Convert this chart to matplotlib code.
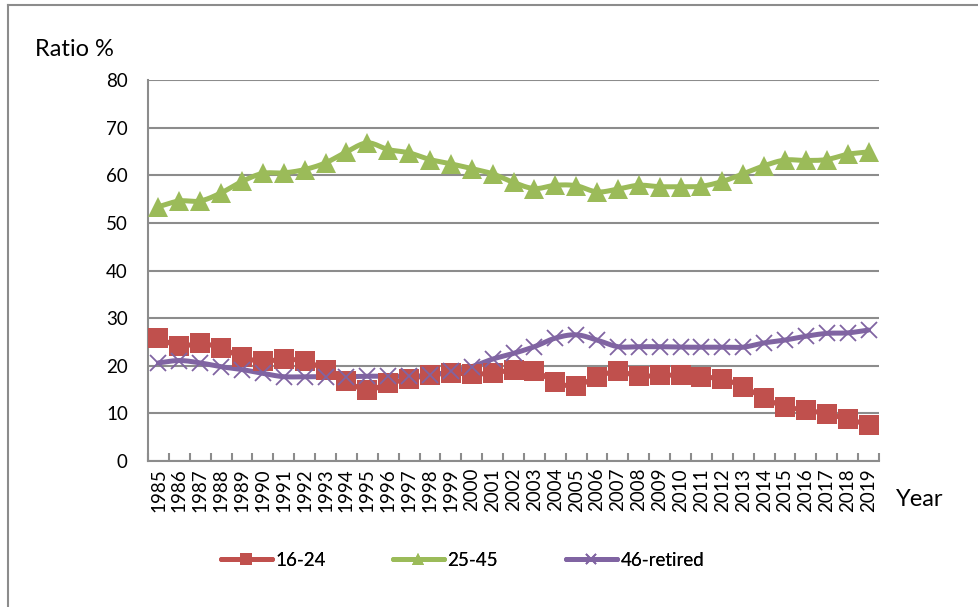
import numpy as np
import matplotlib
matplotlib.use("Agg")
import matplotlib.pyplot as plt
from matplotlib.lines import Line2D

plt.rcParams['font.family'] = ['Lato', 'DejaVu Sans']

years = list(range(1985, 2020))
age_16_24 = [25.8, 24.1, 24.7, 23.7, 21.8, 20.9, 21.4, 20.9, 19.2, 16.7,
             14.9, 16.3, 17.2, 18.1, 18.4, 18.3, 18.4, 19.2, 19.0, 16.5,
             15.8, 17.7, 18.8, 17.8, 18.0, 18.0, 17.7, 17.2, 15.6, 13.2,
             11.4, 10.7, 9.9, 8.8, 7.6]
age_25_45 = [53.4, 54.6, 54.6, 56.3, 58.7, 60.4, 60.5, 61.2, 62.6, 64.9,
             66.8, 65.4, 64.7, 63.3, 62.4, 61.4, 60.3, 58.5, 57.2, 57.9,
             57.8, 56.5, 57.1, 57.9, 57.6, 57.6, 57.7, 58.7, 60.3, 62.0,
             63.2, 63.1, 63.3, 64.4, 64.9]
age_46_retired = [20.6, 21.1, 20.6, 19.8, 19.2, 18.4, 17.7, 17.7, 17.7, 17.7,
                  17.8, 17.8, 17.8, 18.0, 18.8, 19.8, 21.4, 22.6, 24.0, 25.8,
                  26.5, 25.4, 24.0, 24.0, 24.0, 23.9, 23.9, 23.9, 23.9, 24.8,
                  25.4, 26.2, 26.8, 26.9, 27.5]
series_names = ["16-24", "25-45", "46-retired"]
y_ticks = [0, 10, 20, 30, 40, 50, 60, 70, 80]


def smooth(x, y, n=12):
    """Catmull-Rom spline through the points (smoothed line style)."""
    x = np.asarray(x, float)
    y = np.asarray(y, float)
    xs, ys = [], []
    for i in range(len(x) - 1):
        p0 = i - 1 if i > 0 else i
        p3 = i + 2 if i + 2 < len(x) else i + 1
        mx0 = (x[i + 1] - x[p0]) / (i + 1 - p0)
        my0 = (y[i + 1] - y[p0]) / (i + 1 - p0)
        mx1 = (x[p3] - x[i]) / (p3 - i)
        my1 = (y[p3] - y[i]) / (p3 - i)
        t = np.linspace(0, 1, n, endpoint=False)
        h00 = 2 * t**3 - 3 * t**2 + 1
        h10 = t**3 - 2 * t**2 + t
        h01 = -2 * t**3 + 3 * t**2
        h11 = t**3 - t**2
        xs.append(h00 * x[i] + h10 * mx0 + h01 * x[i + 1] + h11 * mx1)
        ys.append(h00 * y[i] + h10 * my0 + h01 * y[i + 1] + h11 * my1)
    xs.append([x[-1]])
    ys.append([y[-1]])
    return np.concatenate(xs), np.concatenate(ys)


fig = plt.figure(figsize=(9.79, 6.07), dpi=100)
ax = fig.add_axes([148 / 979, 1 - 461 / 607, (879 - 148) / 979, (461 - 80) / 607])

xpos = np.arange(len(years))
colors = ["#C0504D", "#9BBB59", "#8064A2"]
styles = [
    dict(marker="s", markersize=15, markeredgewidth=0),
    dict(marker="^", markersize=14, markeredgewidth=0),
    dict(marker="x", markersize=12, markeredgewidth=1.3),
]
data = [age_16_24, age_25_45, age_46_retired]

for vals, col, st in zip(data, colors, styles):
    sx, sy = smooth(xpos, vals)
    ax.plot(sx, sy, color=col, lw=3.6, solid_capstyle="round", zorder=3)
    ax.plot(xpos, vals, linestyle="none", color=col, zorder=4, **st)

ax.set_xlim(-0.5, len(years) - 0.5)
ax.set_ylim(0, 80)
ax.set_yticks(y_ticks)
ax.set_yticklabels([str(v) for v in y_ticks], fontsize=13.5)
ax.yaxis.grid(True, color="#8C8C8C", lw=1.5)
ax.set_axisbelow(True)
ax.tick_params(axis="y", length=0, pad=14.5)

ax.set_xticks(xpos)
ax.set_xticklabels([str(y) for y in years], rotation=90, fontsize=13.5)
ax.tick_params(axis="x", length=0, pad=5)
ax.set_xticks(np.arange(-0.5, len(years), 1), minor=True)
ax.tick_params(axis="x", which="minor", length=6, width=1.5, color="#8C8C8C", direction="in")

for s in ["top", "right"]:
    ax.spines[s].set_visible(False)
for s in ["left", "bottom"]:
    ax.spines[s].set_color("#8C8C8C")
    ax.spines[s].set_linewidth(1.5)

fig.text(35 / 979, 1 - 50 / 607, "Ratio %", fontsize=17, va="center", ha="left")
fig.text(896 / 979, 1 - 500 / 607, "Year", fontsize=17, va="center", ha="left")

legend_sizes = [9, 8, 7]
legend_x = [221, 393, 566]
for name, col, st, ms, lx in zip(series_names, colors, styles, legend_sizes, legend_x):
    h = Line2D([], [], color=col, lw=3.6, solid_capstyle="round", **(st | dict(markersize=ms)))
    leg = fig.legend([h], [name], loc="center left", bbox_to_anchor=(lx / 979, 1 - 560 / 607),
                     frameon=False, fontsize=13.5, handlelength=2.7, handletextpad=0.2,
                     borderpad=0, borderaxespad=0)
    fig.add_artist(leg)

# outer chart frame
fig.add_artist(Line2D([8 / 979, 8 / 979], [0, 1 - 5 / 607], color="#8C8C8C", lw=1.5,
                      transform=fig.transFigure))
fig.add_artist(Line2D([8 / 979, 1], [1 - 5 / 607, 1 - 5 / 607], color="#8C8C8C", lw=1.5,
                      transform=fig.transFigure))

fig.savefig("out.png", dpi=100)
